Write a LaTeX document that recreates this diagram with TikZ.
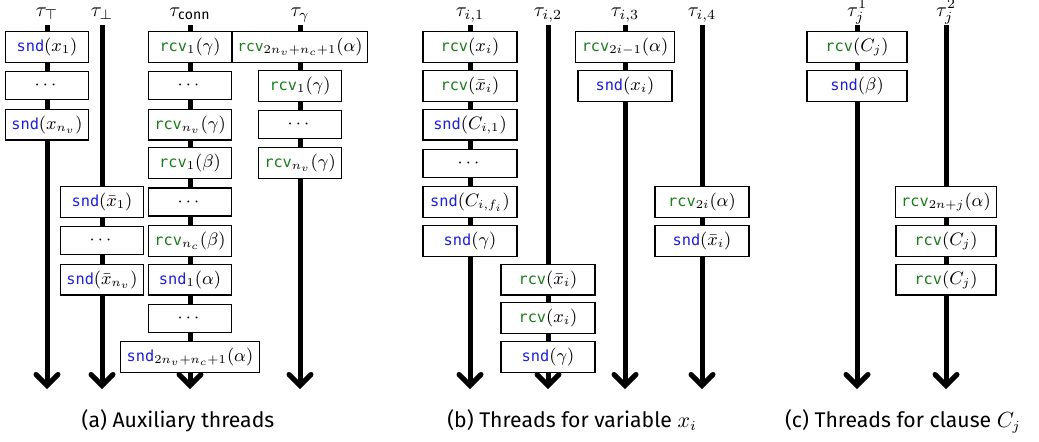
\documentclass[tikz,border=0pt]{standalone}
\usepackage{amsmath}
\usepackage{fontspec}
\usetikzlibrary{arrows.meta}
\setsansfont{Fira Sans}
\newfontfamily\codefont[Scale=0.85]{DejaVu Sans Mono}
\definecolor{sndc}{RGB}{30,30,225}
\definecolor{rcvc}{RGB}{25,125,25}
\newcommand{\snd}{\text{\color{sndc}\codefont snd}}
\newcommand{\rcv}{\text{\color{rcvc}\codefont rcv}}
\tikzset{
  thread/.style={line width=2.5pt, -{Straight Barb[length=5.5pt,width=11pt,line cap=round]}},
  box/.style={draw, line width=0.6pt, fill=white, minimum height=14pt, inner xsep=3pt, inner ysep=3.2pt, font=\fontsize{9}{11}\selectfont},
  wa/.style={box, minimum width=41.5pt},
  wb/.style={box, minimum width=47pt},
  wc/.style={box, minimum width=50pt},
  lab/.style={anchor=base, inner sep=0pt, font=\fontsize{10}{12}\selectfont},
  captext/.style={anchor=base, inner sep=0pt, font=\sffamily\fontsize{10.6}{13}\selectfont},
}
\begin{document}
\begin{tikzpicture}[x=0.5pt,y=-0.5pt]
\useasboundingbox (0,0) rectangle (1039,441);
\def\Ra{47}\def\Rb{85.75}\def\Rc{124.5}\def\Rd{163.25}\def\Re{202}
\def\Rf{240.75}\def\Rg{279.5}\def\Rh{318.25}\def\Ri{357}
% threads
\foreach \n/\x in {tT/47, tB/102, tC/190, tG/300, ti1/470, ti2/548, ti3/625, ti4/702, tj1/857, tj2/946} {
  \coordinate (\n s) at (\x,25);
  \coordinate (\n e) at (\x,389);
  \draw[thread] (\n s) -- (\n e);
}
% thread labels
\node[lab] (LtT) at (47,16) {$\tau_\top$};
\node[lab] (LtB) at (102,16) {$\tau_\bot$};
\node[lab] (LtC) at (190,16) {$\tau_{\mathsf{conn}}$};
\node[lab] (LtG) at (300,16) {$\tau_\gamma$};
\node[lab] (Lti1) at (470,16) {$\tau_{i,1}$};
\node[lab] (Lti2) at (548,16) {$\tau_{i,2}$};
\node[lab] (Lti3) at (625,16) {$\tau_{i,3}$};
\node[lab] (Lti4) at (702,16) {$\tau_{i,4}$};
\node[lab] (Ltj1) at (857,16) {$\tau_j^1$};
\node[lab] (Ltj2) at (946,16) {$\tau_j^2$};
% (a) tau_top
\node[wa] (T1) at (47,\Ra) {$\snd(x_1)$};
\node[wa] (T2) at (47,\Rb) {$\cdots$};
\node[wa] (T3) at (47,\Rc) {$\snd(x_{n_v})$};
% tau_bot
\node[wa] (B1) at (102,\Re) {$\snd(\bar{x}_1)$};
\node[wa] (B2) at (102,\Rf) {$\cdots$};
\node[wa] (B3) at (102,\Rg) {$\snd(\bar{x}_{n_v})$};
% tau_conn
\node[wa] (C1) at (190,\Ra) {$\rcv_1(\gamma)$};
\node[wa] (C2) at (190,\Rb) {$\cdots$};
\node[wa] (C3) at (190,\Rc) {$\rcv_{n_v}(\gamma)$};
\node[wa] (C4) at (190,\Rd) {$\rcv_1(\beta)$};
\node[wa] (C5) at (190,\Re) {$\cdots$};
\node[wa] (C6) at (190,\Rf) {$\rcv_{n_c}(\beta)$};
\node[wa] (C7) at (190,\Rg) {$\snd_1(\alpha)$};
\node[wa] (C8) at (190,\Rh) {$\cdots$};
\node[wa] (C9) at (190,\Ri) {$\snd_{2n_v+n_c+1}(\alpha)$};
% tau_gamma
\node[wa, inner xsep=2.5pt, font=\fontsize{8.6}{11}\selectfont] (G1) at (300,\Ra) {$\rcv_{2n_v{+}n_c{+}1}(\alpha)$};
\node[wa] (G2) at (300,\Rb) {$\rcv_1(\gamma)$};
\node[wa] (G3) at (300,\Rc) {$\cdots$};
\node[wa] (G4) at (300,\Rd) {$\rcv_{n_v}(\gamma)$};
% (b) tau_i1
\node[wb] (I1) at (470,\Ra) {$\rcv(x_i)$};
\node[wb] (I2) at (470,\Rb) {$\rcv(\bar{x}_i)$};
\node[wb] (I3) at (470,\Rc) {$\snd(C_{i,1})$};
\node[wb] (I4) at (470,\Rd) {$\cdots$};
\node[wb] (I5) at (470,\Re) {$\snd(C_{i,f_i})$};
\node[wb] (I6) at (470,\Rf) {$\snd(\gamma)$};
% tau_i2
\node[wb] (J1) at (548,\Rg) {$\rcv(\bar{x}_i)$};
\node[wb] (J2) at (548,\Rh) {$\rcv(x_i)$};
\node[wb] (J3) at (548,\Ri) {$\snd(\gamma)$};
% tau_i3
\node[wb] (K1) at (625,\Ra) {$\rcv_{2i-1}(\alpha)$};
\node[wb] (K2) at (625,\Rb) {$\snd(x_i)$};
% tau_i4
\node[wb] (M1) at (702,\Re) {$\rcv_{2i}(\alpha)$};
\node[wb] (M2) at (702,\Rf) {$\snd(\bar{x}_i)$};
% (c) tau_j1
\node[wc] (P1) at (857,\Ra) {$\rcv(C_j)$};
\node[wc] (P2) at (857,\Rb) {$\snd(\beta)$};
% tau_j2
\node[wc] (Q1) at (946,\Re) {$\rcv_{2n+j}(\alpha)$};
\node[wc] (Q2) at (946,\Rf) {$\rcv(C_j)$};
\node[wc] (Q3) at (946,\Rg) {$\rcv(C_j)$};
% captions
\node[captext] (capa) at (178,427) {(a) Auxiliary threads};
\node[captext] (capb) at (572,427) {(b) Threads for variable $x_i$};
\node[captext] (capc) at (903,427) {(c) Threads for clause $C_j$};
\end{tikzpicture}
\end{document}
